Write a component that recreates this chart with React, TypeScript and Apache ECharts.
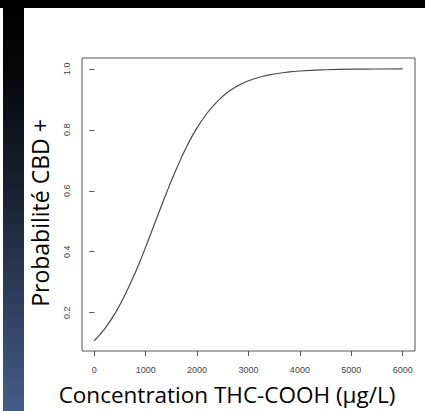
import React, { useEffect, useRef } from "react";
import * as echarts from "echarts";

const concentrations = [0, 200, 400, 600, 800, 1000, 1200, 1400, 1600, 1800, 2000, 2200, 2400, 2600, 2800, 3000, 3250, 3500, 3750, 4000, 4500, 5000, 5500, 6000];
const probabilities = [0.108, 0.147, 0.197, 0.26, 0.333, 0.416, 0.504, 0.591, 0.673, 0.746, 0.807, 0.856, 0.894, 0.924, 0.945, 0.961, 0.974, 0.983, 0.989, 0.993, 0.997, 0.999, 0.9995, 0.9998];
const xTicks = [0, 1000, 2000, 3000, 4000, 5000, 6000];
const yTicks = [0.2, 0.4, 0.6, 0.8, 1.0];
const xTitle = "Concentration THC-COOH (µg/L)";
const yTitle = "Probabilité CBD +";

export default function App() {
  const ref = useRef<HTMLDivElement>(null);
  useEffect(() => {
    if (!ref.current) return;
    const chart = echarts.init(ref.current, null, { renderer: "svg" });
    const xMin = -240, xMax = 6240;
    const yMin = 0.0744, yMax = 1.0356;
    chart.setOption({
      animation: false,
      backgroundColor: "#ffffff",
      grid: {
        left: 82, top: 58, width: 333, height: 293,
        show: true, borderColor: "#555", borderWidth: 1, backgroundColor: "transparent",
      },
      xAxis: {
        type: "value", min: xMin, max: xMax,
        axisLine: { show: false },
        splitLine: { show: false },
        axisTick: { show: true, customValues: xTicks, length: 5, lineStyle: { color: "#555" } },
        axisLabel: {
          customValues: xTicks, margin: 14, fontSize: 9, color: "#444", fontFamily: "Liberation Sans",
          formatter: (v: number) => String(Math.round(v)),
        },
      },
      yAxis: {
        type: "value", min: yMin, max: yMax,
        axisLine: { show: false },
        splitLine: { show: false },
        axisTick: { show: true, customValues: yTicks, length: 5, lineStyle: { color: "#555" } },
        axisLabel: {
          customValues: yTicks, margin: 11, fontSize: 9, color: "#444", fontFamily: "Liberation Sans",
          rotate: 90, formatter: (v: number) => v.toFixed(1),
        },
      },
      series: [
        {
          type: "line",
          data: concentrations.map((c, i) => [c, probabilities[i]]),
          smooth: true,
          showSymbol: false,
          lineStyle: { color: "#4a4a4a", width: 1.2 },
        },
      ],
      graphic: [
        { type: "rect", left: 0, top: 0, shape: { width: 425, height: 8 }, style: { fill: "#000" }, z: 10 },
        {
          type: "rect", left: 3, top: 8, shape: { width: 21, height: 403 },
          style: {
            fill: new echarts.graphic.LinearGradient(0, 0, 0, 1, [
              { offset: 0, color: "#000000" },
              { offset: 0.15, color: "#050608" },
              { offset: 0.5, color: "#1c2638" },
              { offset: 1, color: "#445d88" },
            ]),
          },
          z: 10,
        },
        {
          type: "text", x: 40, y: 213, rotation: Math.PI / 2,
          style: { text: yTitle, fontSize: 23, fontFamily: "Open Sans", fill: "#000", align: "center", verticalAlign: "middle" },
        },
        {
          type: "text", x: 227, y: 394,
          style: { text: xTitle, fontSize: 22.5, fontFamily: "Open Sans", fill: "#000", align: "center", verticalAlign: "middle" },
        },
      ],
    });
    return () => chart.dispose();
  }, []);
  return <div ref={ref} style={{ position: "fixed", left: 0, top: 0, width: 425, height: 411 }} />;
}
